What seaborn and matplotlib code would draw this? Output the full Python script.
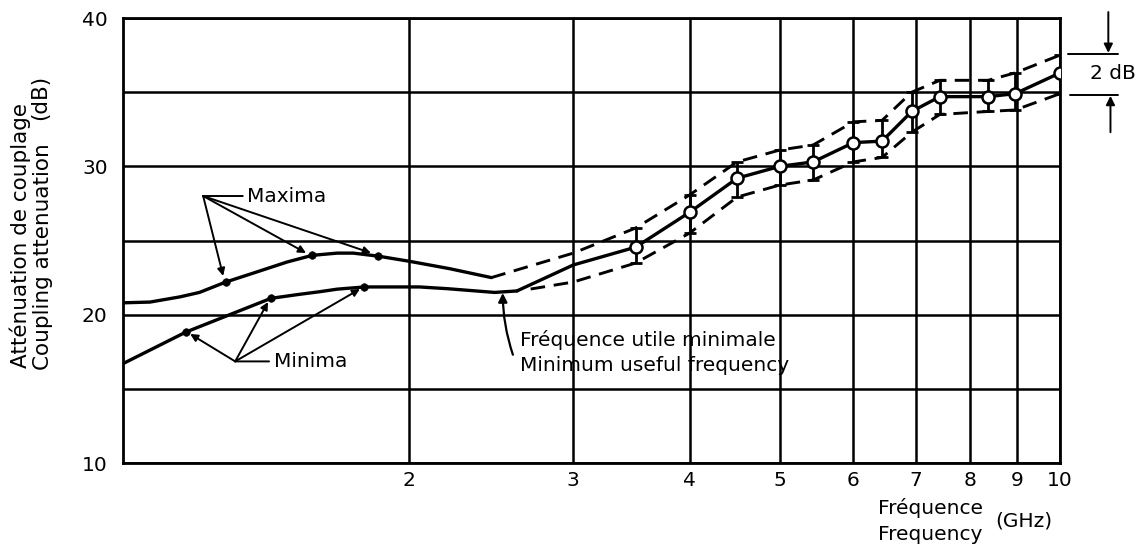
import matplotlib
matplotlib.use("Agg")
import matplotlib.pyplot as plt
import seaborn as sns
import numpy as np
from matplotlib.ticker import FixedLocator, FixedFormatter, NullLocator, NullFormatter

# ---------------- data ----------------
max_freq = [0.985, 1.053, 1.134, 1.19, 1.27, 1.359, 1.478, 1.573, 1.673, 1.741, 1.85,
            2.0, 2.21, 2.45]
max_db = [20.8, 20.85, 21.2, 21.5, 22.2, 22.8, 23.55, 24.0, 24.15, 24.15, 23.95,
          23.6, 23.1, 22.5]

min_freq = [0.985, 1.151, 1.42, 1.515, 1.603, 1.673, 1.79, 2.05, 2.2, 2.47, 2.61]
min_db = [16.7, 18.83, 21.1, 21.35, 21.55, 21.72, 21.87, 21.87, 21.75, 21.5, 21.6]

max_dot_freq = [1.27, 1.573, 1.85]
max_dot_db = [22.2, 24.0, 23.95]
min_dot_freq = [1.151, 1.42, 1.79]
min_dot_db = [18.83, 21.1, 21.87]

mean_freq = [2.61, 3.0, 3.5, 4.0, 4.5, 5.0, 5.43, 6.0, 6.44, 6.93, 7.43, 8.37, 8.95, 10.0]
mean_db = [21.6, 23.35, 24.55, 26.9, 29.2, 30.0, 30.3, 31.6, 31.7, 33.7, 34.7, 34.7, 34.9, 36.3]

err_freq = [3.5, 4.0, 4.5, 5.0, 5.43, 6.0, 6.44, 6.93, 7.43, 8.37, 8.95, 10.0]
err_mid = [24.55, 26.9, 29.2, 30.0, 30.3, 31.6, 31.7, 33.7, 34.7, 34.7, 34.9, 36.3]
err_hi = [25.84, 28.07, 30.3, 31.1, 31.44, 33.0, 33.1, 35.0, 35.8, 35.8, 36.3, 37.5]
err_lo = [23.48, 25.5, 27.93, 28.74, 29.08, 30.3, 30.6, 32.3, 33.5, 33.7, 33.8, 34.9]

upper_start_freq = [2.45, 3.0]
upper_start_db = [22.5, 24.15]
lower_start_freq = [2.70, 3.0]
lower_start_db = [21.73, 22.2]

x_ticks = [2, 3, 4, 5, 6, 7, 8, 9, 10]
x_tick_labels = ["2", "3", "4", "5", "6", "7", "8", "9", "10"]
y_ticks = [10, 20, 30, 40]
y_tick_labels = ["10", "20", "30", "40"]
y_minor = [15, 25, 35]

# ---------------- figure ----------------
sns.set_theme(style="white")
plt.rcParams["font.family"] = ["DejaVu Sans"]
plt.rcParams["text.color"] = "black"

fig = plt.figure(figsize=(11.41, 5.46), dpi=100)
ax = fig.add_axes([0.1078, 0.152, 0.8212, 0.815])
ax.set_xscale("log")
ax.set_xlim(0.985, 10)
ax.set_ylim(10, 40)

K = "black"
LW = 2.4
FS = 14.5

sns.lineplot(x=max_freq, y=max_db, ax=ax, color=K, lw=LW, sort=False, estimator=None)
sns.lineplot(x=min_freq, y=min_db, ax=ax, color=K, lw=LW, sort=False, estimator=None)
sns.lineplot(x=mean_freq, y=mean_db, ax=ax, color=K, lw=LW, sort=False, estimator=None)

up_f = upper_start_freq + err_freq
up_d = upper_start_db + err_hi
lo_f = lower_start_freq + err_freq
lo_d = lower_start_db + err_lo
sns.lineplot(x=up_f, y=up_d, ax=ax, color=K, lw=2.1, sort=False, estimator=None,
             linestyle=(0, (5, 3)))
sns.lineplot(x=lo_f, y=lo_d, ax=ax, color=K, lw=2.1, sort=False, estimator=None,
             linestyle=(0, (5, 3)))

# error bars and open circles
mid = np.array(err_mid)
yerr = np.vstack([mid - np.array(err_lo), np.array(err_hi) - mid])
ax.errorbar(err_freq, err_mid, yerr=yerr, fmt="none", ecolor=K, elinewidth=2.0,
            capsize=4, capthick=2.0, zorder=3)
sns.scatterplot(x=err_freq, y=err_mid, ax=ax, s=75, facecolor="white",
                edgecolor=K, linewidth=1.8, zorder=4)

# maxima / minima dots
sns.scatterplot(x=max_dot_freq + min_dot_freq, y=max_dot_db + min_dot_db, ax=ax,
                s=30, color=K, edgecolor=K, zorder=4)

# ---------------- axes styling ----------------
ax.xaxis.set_major_locator(FixedLocator(x_ticks))
ax.xaxis.set_major_formatter(FixedFormatter(x_tick_labels))
ax.xaxis.set_minor_locator(NullLocator())
ax.xaxis.set_minor_formatter(NullFormatter())
ax.yaxis.set_major_locator(FixedLocator(y_ticks))
ax.yaxis.set_major_formatter(FixedFormatter(y_tick_labels))
ax.yaxis.set_minor_locator(FixedLocator(y_minor))
ax.grid(True, which="both", color=K, lw=1.8)
ax.tick_params(which="both", length=0, labelsize=FS, colors=K)
ax.tick_params(axis="y", pad=11)
ax.tick_params(axis="x", pad=6)
for sp in ax.spines.values():
    sp.set_color(K)
    sp.set_linewidth(2.0)
ax.set_xlabel("")
ax.set_ylabel("")

# ---------------- annotations ----------------
arr = dict(arrowstyle="-|>", color=K, lw=1.4, mutation_scale=11, shrinkA=0, shrinkB=0)

max_root = (1.201, 28.0)
ax.annotate("Maxima", xy=max_root, xytext=(1.34, 28.0), fontsize=FS, va="center",
            ha="left", arrowprops=dict(arrowstyle="-", color=K, lw=1.4, shrinkA=1, shrinkB=0))
for tip in [(1.262, 22.61), (1.549, 24.16), (1.819, 24.16)]:
    ax.annotate("", xy=tip, xytext=max_root, arrowprops=arr)

min_root = (1.300, 16.85)
ax.annotate("Minima", xy=min_root, xytext=(1.43, 16.85), fontsize=FS, va="center",
            ha="left", arrowprops=dict(arrowstyle="-", color=K, lw=1.4, shrinkA=1, shrinkB=0))
for tip in [(1.163, 18.70), (1.410, 20.85), (1.770, 21.73)]:
    ax.annotate("", xy=tip, xytext=min_root, arrowprops=arr)

ax.annotate("", xy=(2.52, 21.46), xytext=(2.584, 17.3),
            arrowprops=dict(arrowstyle="-|>", color=K, lw=1.6, mutation_scale=13,
                            shrinkA=0, shrinkB=0, connectionstyle="arc3,rad=-0.08"))
ax.text(2.63, 18.29, "Fréquence utile minimale", fontsize=FS, va="center", ha="left")
ax.text(2.63, 16.6, "Minimum useful frequency", fontsize=FS, va="center", ha="left")

# 2 dB indicator (outside the axes)
ax.plot([10.2, 11.55], [37.6, 37.6], color=K, lw=1.4, clip_on=False)
ax.plot([10.25, 11.55], [34.8, 34.8], color=K, lw=1.4, clip_on=False)
ax.annotate("", xy=(11.27, 37.65), xytext=(11.27, 40.4), annotation_clip=False,
            arrowprops=dict(arrowstyle="-|>", color=K, lw=1.4, mutation_scale=13,
                            shrinkA=0, shrinkB=0))
ax.annotate("", xy=(11.33, 34.75), xytext=(11.33, 32.3), annotation_clip=False,
            arrowprops=dict(arrowstyle="-|>", color=K, lw=1.4, mutation_scale=13,
                            shrinkA=0, shrinkB=0))
ax.text(10.76, 36.25, "2 dB", fontsize=FS, va="center", ha="left", clip_on=False)

# axis titles
YFS = 15.5
fig.text(20 / 1141, 1 - 368 / 546, "Atténuation de couplage", rotation=90,
         ha="center", va="bottom", fontsize=YFS)
fig.text(43 / 1141, 1 - 370 / 546, "Coupling attenuation", rotation=90,
         ha="center", va="bottom", fontsize=YFS)
fig.text(40 / 1141, 1 - 97 / 546, "(dB)", rotation=90, ha="center", va="center",
         fontsize=YFS)
fig.text(878 / 1141, 1 - 508 / 546, "Fréquence", ha="left", va="center", fontsize=FS)
fig.text(878 / 1141, 1 - 534 / 546, "Frequency", ha="left", va="center", fontsize=FS)
fig.text(995 / 1141, 1 - 521 / 546, "(GHz)", ha="left", va="center", fontsize=FS)

fig.savefig("out.png", dpi=100)
